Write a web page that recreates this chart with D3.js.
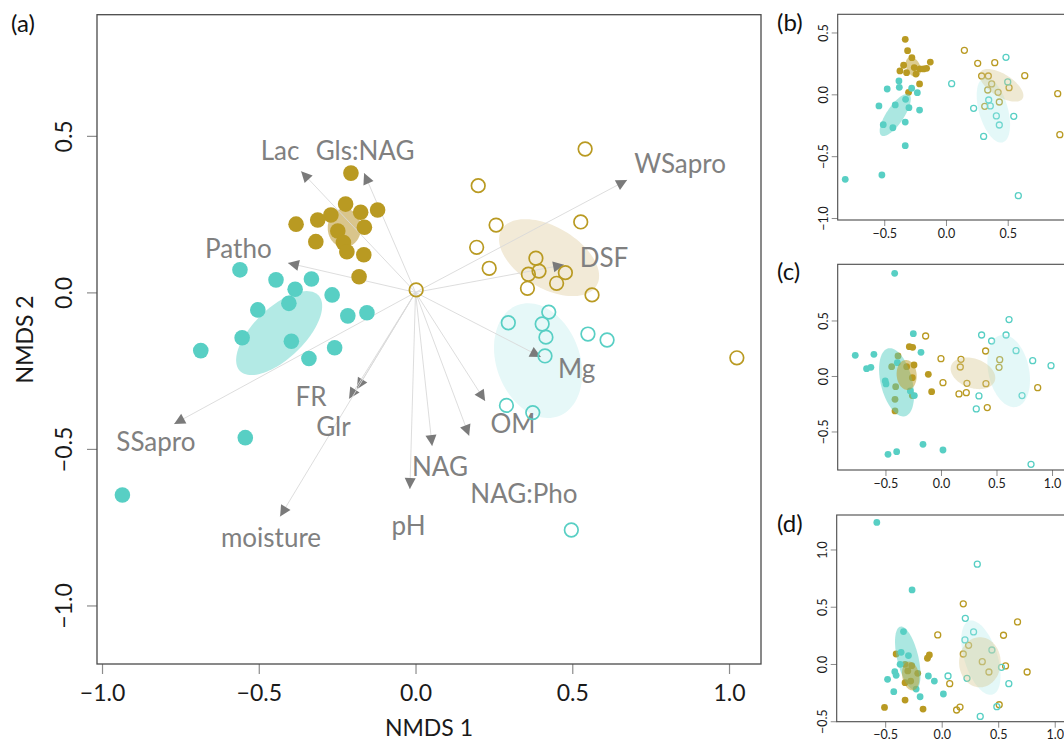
<!DOCTYPE html>
<html><head><meta charset="utf-8">
<script src="https://cdn.jsdelivr.net/npm/d3@7"></script>
<style>
body{margin:0;background:#fff}
svg{display:block}
text{font-family:Lato,"Open Sans",sans-serif}
</style>
</head><body>
<svg id="chart" width="1064" height="742"></svg>
<script>
// ---------------- DATA ----------------
// Panel (a): NMDS scores [NMDS1, NMDS2]
const mainGoldFilled = [[-0.206,0.381],[-0.223,0.282],[-0.175,0.256],[-0.121,0.263],[-0.270,0.247],[-0.312,0.231],[-0.381,0.218],[-0.248,0.196],[-0.163,0.208],[-0.318,0.162],[-0.230,0.159],[-0.219,0.130],[-0.165,0.120],[-0.180,0.050]];
const mainTealFilled = [[-0.560,0.072],[-0.445,0.040],[-0.332,0.043],[-0.384,0.010],[-0.266,-0.008],[-0.503,-0.056],[-0.404,-0.035],[-0.216,-0.075],[-0.155,-0.065],[-0.553,-0.145],[-0.396,-0.156],[-0.258,-0.177],[-0.340,-0.211],[-0.685,-0.186],[-0.543,-0.464],[-0.935,-0.647]];
const mainGoldOpen = [[0.541,0.458],[0.200,0.341],[0.257,0.215],[0.527,0.225],[0.195,0.144],[0.235,0.077],[0.384,0.109],[0.394,0.068],[0.360,0.058],[0.478,0.063],[0.450,0.029],[0.357,0.013],[0.563,-0.008],[1.025,-0.209],[0.002,0.008]];
const mainTealOpen = [[0.425,-0.063],[0.296,-0.097],[0.404,-0.101],[0.416,-0.143],[0.550,-0.133],[0.611,-0.152],[0.413,-0.203],[0.290,-0.361],[0.374,-0.384],[0.497,-0.759]];
// group ellipses: [centre x, centre y, semi-axis a, semi-axis b, angle (deg)]
const mainEllipses = {
  tealFilled:[-0.435,-0.130,0.174,0.081,44],
  tealOpen:[0.391,-0.218,0.189,0.133,-70],
  goldFilled:[-0.227,0.206,0.062,0.053,90],
  goldOpen:[0.426,0.111,0.176,0.098,-30.5]
};
// fitted environmental vectors
const vectorNames = ["Lac","Gls:NAG","WSapro","Patho","DSF","Mg","OM","NAG:Pho","NAG","pH","FR","Glr","SSapro","moisture"];
const vectorX = [-0.365,-0.164,0.675,-0.407,0.474,0.400,0.222,0.171,0.053,-0.018,-0.187,-0.212,-0.770,-0.432];
const vectorY = [0.387,0.381,0.359,0.094,0.088,-0.206,-0.347,-0.458,-0.491,-0.628,-0.309,-0.340,-0.420,-0.716];
const vectorLabelX = [-0.432,-0.161,0.844,-0.565,0.601,0.514,0.311,0.346,0.078,-0.022,-0.333,-0.262,-0.828,-0.461];
const vectorLabelY = [0.422,0.423,0.382,0.110,0.081,-0.273,-0.449,-0.673,-0.587,-0.775,-0.362,-0.458,-0.506,-0.813];

// Panel (b)
const bGoldFilled = [[-0.330,0.445],[-0.311,0.353],[-0.276,0.296],[-0.343,0.235],[-0.373,0.189],[-0.319,0.175],[-0.257,0.216],[-0.243,0.164],[-0.211,0.205],[-0.181,0.205],[-0.157,0.210],[-0.127,0.261],[-0.214,0.084],[-0.303,0.016]];
const bTealFilled = [[-0.381,0.108],[-0.378,0.057],[-0.278,0.049],[-0.232,0.013],[-0.476,0.043],[-0.327,-0.040],[-0.411,-0.086],[-0.300,-0.108],[-0.543,-0.094],[-0.214,-0.127],[-0.330,-0.224],[-0.508,-0.245],[-0.430,-0.270],[-0.330,-0.415],[-0.519,-0.652],[-0.816,-0.687]];
const bGoldOpen = [[0.149,0.356],[0.257,0.251],[0.395,0.256],[0.289,0.148],[0.343,0.148],[0.370,0.084],[0.338,0.035],[0.422,0.016],[0.511,0.054],[0.638,0.151],[0.432,-0.062],[0.314,-0.097],[0.905,0.005],[0.922,-0.326]];
const bTealOpen = [[0.046,0.086],[0.486,0.299],[0.500,0.100],[0.346,-0.046],[0.359,-0.094],[0.224,-0.113],[0.408,-0.175],[0.549,-0.178],[0.432,-0.248],[0.305,-0.340],[0.586,-0.819]];
const bEllipses = {
  tealFilled:[-0.411,-0.167,0.200,0.070,56],
  tealOpen:[0.384,-0.127,0.272,0.117,-74],
  goldFilled:[-0.265,0.221,0.085,0.055,-65],
  goldOpen:[0.449,0.073,0.202,0.091,-32]
};

// Panel (c)
const cGoldFilled = [[-0.285,0.264],[-0.255,0.258],[-0.309,0.084],[-0.243,0.099],[-0.258,-0.015],[-0.114,0.015],[-0.084,-0.141],[-0.258,-0.177],[-0.387,0.180],[-0.444,0.084],[-0.408,-0.096],[-0.414,-0.210],[-0.414,-0.315]];
const cTealFilled = [[-0.417,0.925],[-0.772,0.186],[-0.604,0.195],[-0.670,0.066],[-0.631,0.078],[-0.249,0.381],[-0.180,0.213],[-0.393,0.120],[-0.502,-0.045],[-0.495,-0.072],[-0.276,-0.135],[-0.240,-0.177],[-0.162,-0.616],[0.018,-0.667],[-0.399,-0.682],[-0.477,-0.706]];
const cGoldOpen = [[-0.138,0.360],[0.000,0.156],[0.180,0.150],[0.174,0.081],[0.018,-0.060],[0.234,-0.066],[0.402,0.225],[0.405,-0.069],[0.228,-0.150],[0.162,-0.162],[0.529,0.147],[0.523,0.078],[0.871,-0.105],[0.417,-0.285]];
const cTealOpen = [[0.366,0.369],[0.456,0.315],[0.613,0.508],[0.586,0.369],[0.676,0.228],[0.826,0.138],[0.991,0.093],[0.730,-0.177],[0.342,-0.180],[0.318,-0.297],[0.811,-0.796]];
const cEllipses = {
  tealFilled:[-0.400,-0.057,0.315,0.142,-76],
  tealOpen:[0.610,0.045,0.331,0.183,-78],
  goldFilled:[-0.309,0.009,0.135,0.090,-85],
  goldOpen:[0.288,0.024,0.208,0.132,-19.5]
};

// Panel (d)
const dGoldFilled = [[-0.403,0.087],[-0.324,-0.003],[-0.265,-0.015],[-0.300,-0.061],[-0.212,-0.082],[-0.324,-0.163],[-0.274,-0.149],[-0.126,0.050],[-0.109,0.079],[-0.324,-0.315],[-0.506,-0.379],[-0.165,-0.394]];
const dTealFilled = [[-0.574,1.236],[-0.262,0.647],[-0.338,0.283],[-0.359,0.102],[-0.294,0.073],[-0.368,-0.003],[-0.415,-0.067],[-0.403,-0.099],[-0.479,-0.134],[-0.424,-0.242],[-0.226,-0.219],[-0.191,-0.286],[-0.118,-0.105],[-0.065,-0.149],[0.015,-0.262]];
const dGoldOpen = [[0.191,0.525],[0.671,0.367],[-0.035,0.254],[0.547,0.251],[0.238,0.163],[0.191,0.087],[0.359,0.020],[0.418,-0.070],[0.565,-0.017],[0.756,-0.070],[0.071,-0.172],[0.162,-0.376],[0.132,-0.402],[0.509,-0.356]];
const dTealOpen = [[0.315,0.872],[0.209,0.399],[0.282,0.280],[0.206,0.210],[0.444,0.122],[0.529,-0.029],[0.056,-0.105],[0.224,-0.125],[0.594,-0.172],[0.488,-0.373],[0.341,-0.458]];
const dEllipses = {
  tealFilled:[-0.300,0.050,0.284,0.094,-76.5],
  tealOpen:[0.347,0.055,0.338,0.146,-72],
  goldFilled:[-0.274,-0.105,0.127,0.075,-80],
  goldOpen:[0.338,0.015,0.219,0.184,90]
};

// tick values
const mainXTicks = [-1.0,-0.5,0.0,0.5,1.0];
const mainYTicks = [-1.0,-0.5,0.0,0.5];
const bXTicks = [-0.5,0.0,0.5], bYTicks = [-1.0,-0.5,0.0,0.5];
const cXTicks = [-0.5,0.0,0.5,1.0], cYTicks = [-0.5,0.0,0.5];
const dXTicks = [-0.5,0.0,0.5,1.0], dYTicks = [-0.5,0.0,0.5,1.0];

// ---------------- DRAWING ----------------
const GOLD = "#b99a22", TEAL = "#58cfc4";
const svg = d3.select("#chart");
const fmt = v => (v < 0 ? "\u2212" : "") + Math.abs(v).toFixed(1);

function ellipsePath(x, y, e) {
  const [cx, cy, a, b, ang] = e, phi = ang * Math.PI / 180;
  const pts = d3.range(0, 96).map(i => {
    const t = i / 96 * 2 * Math.PI;
    const ex = cx + a * Math.cos(t) * Math.cos(phi) - b * Math.sin(t) * Math.sin(phi);
    const ey = cy + a * Math.cos(t) * Math.sin(phi) + b * Math.sin(t) * Math.cos(phi);
    return [x(ex), y(ey)];
  });
  return d3.line().curve(d3.curveLinearClosed)(pts);
}

function makePanel(cfg) {
  const x = d3.scaleLinear().domain(cfg.xd).range([cfg.left, cfg.right]);
  const y = d3.scaleLinear().domain(cfg.yd).range([cfg.bottom, cfg.top]);
  const g = svg.append("g");
  const clipId = "clip-" + cfg.id;
  g.append("clipPath").attr("id", clipId).append("rect")
    .attr("x", cfg.left).attr("y", cfg.top)
    .attr("width", cfg.right - cfg.left).attr("height", cfg.bottom - cfg.top);
  const inner = g.append("g").attr("clip-path", `url(#${clipId})`);

  // axes
  const xa = g.append("g").attr("transform", `translate(0,${cfg.bottom})`)
    .call(d3.axisBottom(x).tickValues(cfg.xTicks).tickSize(cfg.tick).tickFormat(fmt));
  const ya = g.append("g").attr("transform", `translate(${cfg.left},0)`)
    .call(d3.axisLeft(y).tickValues(cfg.yTicks).tickSize(cfg.tick).tickFormat(fmt));
  [xa, ya].forEach(a => {
    a.select(".domain").remove();
    a.selectAll(".tick line").attr("stroke", "#8c8c8c").attr("stroke-width", cfg.tickW);
    a.selectAll(".tick text").attr("fill", "#1a1a1a").style("font-size", cfg.fs + "px")
      .style("font-family", "Lato, 'Open Sans', sans-serif");
  });
  xa.selectAll(".tick text").attr("y", cfg.xOff).attr("dy", 0);
  ya.selectAll(".tick text").attr("x", 0).attr("dy", 0).attr("y", 0)
    .attr("text-anchor", "middle").attr("transform", `translate(${-cfg.yOff},0) rotate(-90)`);

  // box
  g.append("rect").attr("x", cfg.left).attr("y", cfg.top)
    .attr("width", cfg.right - cfg.left).attr("height", cfg.bottom - cfg.top)
    .attr("fill", "none").attr("stroke", "#4a4a4a").attr("stroke-width", cfg.boxW);

  // panel label
  svg.append("text").attr("x", cfg.labX).attr("y", cfg.labY)
    .style("font-size", "24px").attr("fill", "#111").text(cfg.label);
  return {x, y, g: inner};
}

function drawPoints(p, data, filled, r, sw) {
  p.g.append("g").selectAll("circle").data(data.pts).join("circle")
    .attr("cx", d => p.x(d[0])).attr("cy", d => p.y(d[1])).attr("r", r)
    .attr("fill", filled ? data.color : "none")
    .attr("stroke", filled ? "none" : data.color).attr("stroke-width", sw);
}

// ---- panel (a)
const pa = makePanel({id:"a", left:97, right:761, top:14.7, bottom:664,
  xd:[-1.016,1.102], yd:[-1.187,0.887], xTicks:mainXTicks, yTicks:mainYTicks,
  tick:10, tickW:1.2, fs:23, xOff:37, yOff:25, boxW:1.3, label:"(a)", labX:11, labY:32});
const mainFill = {tealFilled:"#b3eae5", tealOpen:"#e6f8f8", goldFilled:"#d9c58c", goldOpen:"#f2ead7"};
["tealOpen","goldOpen","tealFilled","goldFilled"].forEach(k => {
  pa.g.append("path").attr("d", ellipsePath(pa.x, pa.y, mainEllipses[k])).attr("fill", mainFill[k]);
});
// vectors
const vecG = pa.g.append("g");
vectorNames.forEach((n, i) => {
  const x0 = pa.x(0), y0 = pa.y(0), x1 = pa.x(vectorX[i]), y1 = pa.y(vectorY[i]);
  vecG.append("line").attr("x1", x0).attr("y1", y0).attr("x2", x1).attr("y2", y1)
    .attr("stroke", "#d9d9d9").attr("stroke-width", 0.9);
  const ang = Math.atan2(y1 - y0, x1 - x0), L = 11, Wd = 5.5;
  const bx = x1 - L * Math.cos(ang), by = y1 - L * Math.sin(ang);
  const px = -Math.sin(ang) * Wd, py = Math.cos(ang) * Wd;
  vecG.append("path").attr("d", `M${x1},${y1}L${bx + px},${by + py}L${bx - px},${by - py}Z`).attr("fill", "#7a7a7a");
});
drawPoints(pa, {pts: mainGoldFilled, color: GOLD}, true, 7.8, 0);
drawPoints(pa, {pts: mainTealFilled, color: TEAL}, true, 7.8, 0);
drawPoints(pa, {pts: mainGoldOpen, color: GOLD}, false, 6.8, 1.7);
drawPoints(pa, {pts: mainTealOpen, color: TEAL}, false, 6.8, 1.7);
vectorNames.forEach((n, i) => {
  vecG.append("text").attr("x", pa.x(vectorLabelX[i])).attr("y", pa.y(vectorLabelY[i]))
    .attr("text-anchor", "middle").attr("fill", "#808080").style("font-size", "26px").text(n);
});
svg.append("text").attr("x", (97 + 761) / 2).attr("y", 736).attr("text-anchor", "middle")
  .style("font-size", "23px").attr("fill", "#1a1a1a").text("NMDS 1");
svg.append("text").attr("transform", `translate(33,${(14.7 + 664) / 2}) rotate(-90)`).attr("text-anchor", "middle")
  .style("font-size", "23px").attr("fill", "#1a1a1a").text("NMDS 2");

// ---- small panels
const smallFill = {tealFilled:"rgba(88,207,196,0.5)", tealOpen:"rgba(170,232,232,0.32)", goldFilled:"rgba(185,154,34,0.5)", goldOpen:"rgba(214,196,140,0.38)"};
function smallPanel(cfg, gf, tf, go, to, ell) {
  const p = makePanel(Object.assign({tick:6, tickW:1, fs:12.5, xOff:17.5, yOff:10, boxW:1.1, labX:777}, cfg));
  drawPoints(p, {pts: gf, color: GOLD}, true, 3.4, 0);
  drawPoints(p, {pts: tf, color: TEAL}, true, 3.4, 0);
  drawPoints(p, {pts: go, color: GOLD}, false, 3.0, 1.3);
  drawPoints(p, {pts: to, color: TEAL}, false, 3.0, 1.3);
  ["tealOpen","goldOpen","tealFilled","goldFilled"].forEach(k => {
    p.g.append("path").attr("d", ellipsePath(p.x, p.y, ell[k])).attr("fill", smallFill[k]);
  });
}
smallPanel({id:"b", left:837.7, right:1085, top:14.3, bottom:220, xd:[-0.877,1.126], yd:[-1.016,0.647],
  xTicks:bXTicks, yTicks:bYTicks, label:"(b)", labY:31}, bGoldFilled, bTealFilled, bGoldOpen, bTealOpen, bEllipses);
smallPanel({id:"c", left:837.7, right:1085, top:264.3, bottom:470, xd:[-0.930,1.297], yd:[-0.847,1.006],
  xTicks:cXTicks, yTicks:cYTicks, label:"(c)", labY:280}, cGoldFilled, cTealFilled, cGoldOpen, cTealOpen, cEllipses);
smallPanel({id:"d", left:836.7, right:1085, top:515, bottom:721.7, xd:[-0.929,1.268], yd:[-0.504,1.301],
  xTicks:dXTicks, yTicks:dYTicks, label:"(d)", labY:532}, dGoldFilled, dTealFilled, dGoldOpen, dTealOpen, dEllipses);
</script>
</body></html>
